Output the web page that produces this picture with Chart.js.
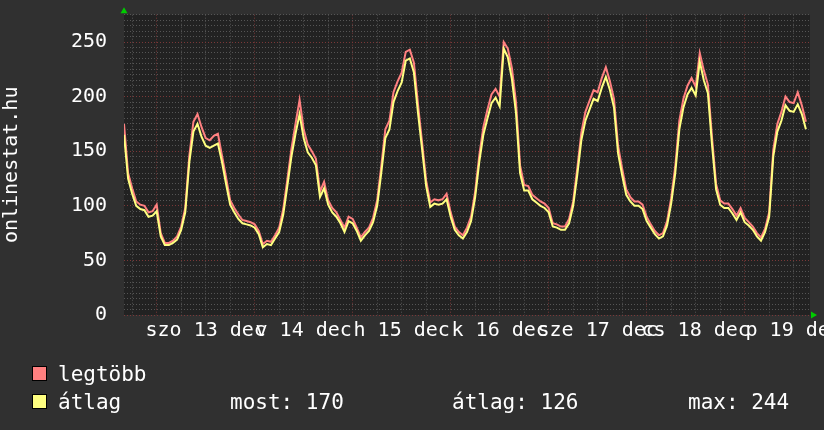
<!DOCTYPE html>
<html>
<head>
<meta charset="utf-8">
<script src="https://cdn.jsdelivr.net/npm/chart.js@4/dist/chart.umd.min.js"></script>
<style>
html, body { margin: 0; padding: 0; background: #303030; }
canvas { display: block; }
</style>
</head>
<body>
<canvas id="chart" width="824" height="430"></canvas>
<script>
// órák dec 13. éjfélhez képest, óránkénti mérések
const startHour = -8;
const dayLabels = ['szo 13 dec', 'v 14 dec', 'h 15 dec', 'k 16 dec', 'sze 17 dec', 'cs 18 dec', 'p 19 dec'];
const seriesNames = ['legtöbb', 'átlag'];

const maxValues = [
    175,130,116,104,101,100,94,95,
    101,75,66,66,68,72,81,98,146,177,184,172,162,160,164,166,146,126,105,98,92,87,86,85,
    83,77,65,68,67,73,80,97,124,152,175,197,170,156,150,143,113,122,105,98,94,87,80,90,
    88,80,71,76,80,89,105,136,170,178,204,214,222,241,243,231,193,158,123,103,106,105,106,111,
    94,81,76,73,80,90,113,146,172,188,202,207,200,250,244,226,195,137,119,118,110,107,104,102,
    98,84,83,81,81,88,104,134,167,186,196,206,204,217,227,214,198,155,134,115,108,104,104,101,
    90,83,77,73,75,86,107,136,178,198,210,217,209,240,224,211,163,120,105,102,102,97,91,98,
    89,85,81,75,71,79,94,151,175,186,200,195,194,204,192,177
];
const avgValues = [
    165,125,111,100,97,96,90,91,
    95,72,64,64,66,69,78,94,140,168,175,163,155,153,155,157,140,120,101,94,88,84,83,82,
    80,74,62,65,64,70,76,92,118,145,166,184,162,149,144,137,108,116,101,94,90,84,76,86,
    84,77,68,73,77,85,100,130,162,170,195,205,213,233,235,222,185,152,118,99,102,101,102,106,
    90,78,73,70,76,86,108,140,165,180,194,199,191,244,236,216,185,130,114,114,106,103,100,98,
    94,81,80,78,78,84,100,128,160,178,188,198,196,208,218,206,190,148,128,110,104,100,100,97,
    86,80,74,70,72,82,102,130,170,190,202,208,201,232,215,203,156,115,101,98,98,93,87,94,
    85,82,78,72,68,76,90,145,168,178,192,187,186,193,184,170
];

const statNames = ['most', 'átlag', 'max'];
const statValues = [
    avgValues[avgValues.length - 1],
    Math.round(avgValues.reduce((a, b) => a + b, 0) / avgValues.length),
    Math.max(...avgValues)
];

const toPoints = arr => arr.map((v, i) => ({ x: startHour + i, y: v }));

const FONT = "'DejaVu Sans Mono', monospace";
const majorGrid = '#7a3838';
const minorGrid = '#555555';

// háttér, zöld nyilak, alsó jelmagyarázat
const rrdLook = {
    id: 'rrdLook',
    beforeDraw(chart) {
        const { ctx, chartArea: a } = chart;
        ctx.save();
        ctx.fillStyle = '#303030';
        ctx.fillRect(0, 0, chart.width, chart.height);
        ctx.fillStyle = '#222222';
        ctx.fillRect(a.left, a.top, a.right - a.left, a.bottom - a.top);
        ctx.restore();
    },
    afterDraw(chart) {
        const { ctx, chartArea: a } = chart;
        ctx.save();
        ctx.fillStyle = '#00cc00';
        ctx.beginPath();
        ctx.moveTo(a.left - 3.5, a.top - 1.5);
        ctx.lineTo(a.left + 3.5, a.top - 1.5);
        ctx.lineTo(a.left, a.top - 7.5);
        ctx.fill();
        ctx.beginPath();
        ctx.moveTo(a.right + 1, a.bottom - 3.5);
        ctx.lineTo(a.right + 1, a.bottom + 3.5);
        ctx.lineTo(a.right + 7, a.bottom);
        ctx.fill();

        ctx.font = '21px ' + FONT;
        ctx.textBaseline = 'alphabetic';
        chart.data.datasets.forEach((ds, i) => {
            const top = 366 + i * 28;
            ctx.fillStyle = ds.borderColor;
            ctx.fillRect(32, top, 15, 15);
            ctx.strokeStyle = '#000';
            ctx.lineWidth = 1;
            ctx.strokeRect(32.5, top + 0.5, 14, 14);
            ctx.fillStyle = '#ffffff';
            ctx.fillText(ds.label, 58, top + 15);
        });
        const statX = [230, 452, 688];
        statNames.forEach((n, i) => {
            ctx.fillText(n + ': ' + statValues[i], statX[i], 409);
        });
        ctx.restore();
    }
};

new Chart(document.getElementById('chart'), {
    type: 'line',
    data: {
        datasets: [{
            label: seriesNames[0],
            data: toPoints(maxValues),
            borderColor: '#ff8080',
            borderWidth: 2,
            pointRadius: 0,
            tension: 0,
            order: 1
        }, {
            label: seriesNames[1],
            data: toPoints(avgValues),
            borderColor: '#ffff80',
            borderWidth: 2,
            pointRadius: 0,
            tension: 0,
            order: 0
        }]
    },
    options: {
        responsive: false,
        devicePixelRatio: 1,
        animation: false,
        layout: { padding: { top: 14.7, right: 14, bottom: 85, left: 0 } },
        plugins: { legend: { display: false }, tooltip: { enabled: false } },
        scales: {
            x: {
                type: 'linear',
                min: startHour,
                max: startHour + 168,
                afterBuildTicks: s => {
                    const t = [];
                    for (let h = -6; h <= 156; h += 6) t.push({ value: h });
                    s.ticks = t;
                },
                afterFit: s => { s.height = 30; s.paddingLeft = 0; s.paddingRight = 0; },
                grid: {
                    drawTicks: false,
                    color: c => (c.tick.value % 24 === 0 ? majorGrid : minorGrid)
                },
                border: { display: false, dash: [1, 2] },
                ticks: {
                    autoSkip: false,
                    maxRotation: 0,
                    minRotation: 0,
                    padding: 4,
                    color: '#ffffff',
                    font: { family: FONT, size: 20 },
                    callback: v => ((v - 12) % 24 === 0 ? dayLabels[(v - 12) / 24] : '')
                }
            },
            y: {
                min: 0,
                max: 275,
                afterFit: s => { s.width = 124; s.paddingTop = 0; s.paddingBottom = 0; },
                grid: {
                    drawTicks: false,
                    color: c => (c.tick.value % 50 === 0 ? majorGrid : minorGrid)
                },
                border: { display: false, dash: [1, 2] },
                title: {
                    display: true,
                    text: 'onlinestat.hu',
                    color: '#ffffff',
                    padding: 0,
                    font: { family: FONT, size: 20 }
                },
                ticks: {
                    stepSize: 5,
                    autoSkip: false,
                    padding: 17,
                    color: '#ffffff',
                    font: { family: FONT, size: 20 },
                    callback: v => (v % 50 === 0 ? v : '')
                }
            }
        }
    },
    plugins: [rrdLook]
});
</script>
</body>
</html>
